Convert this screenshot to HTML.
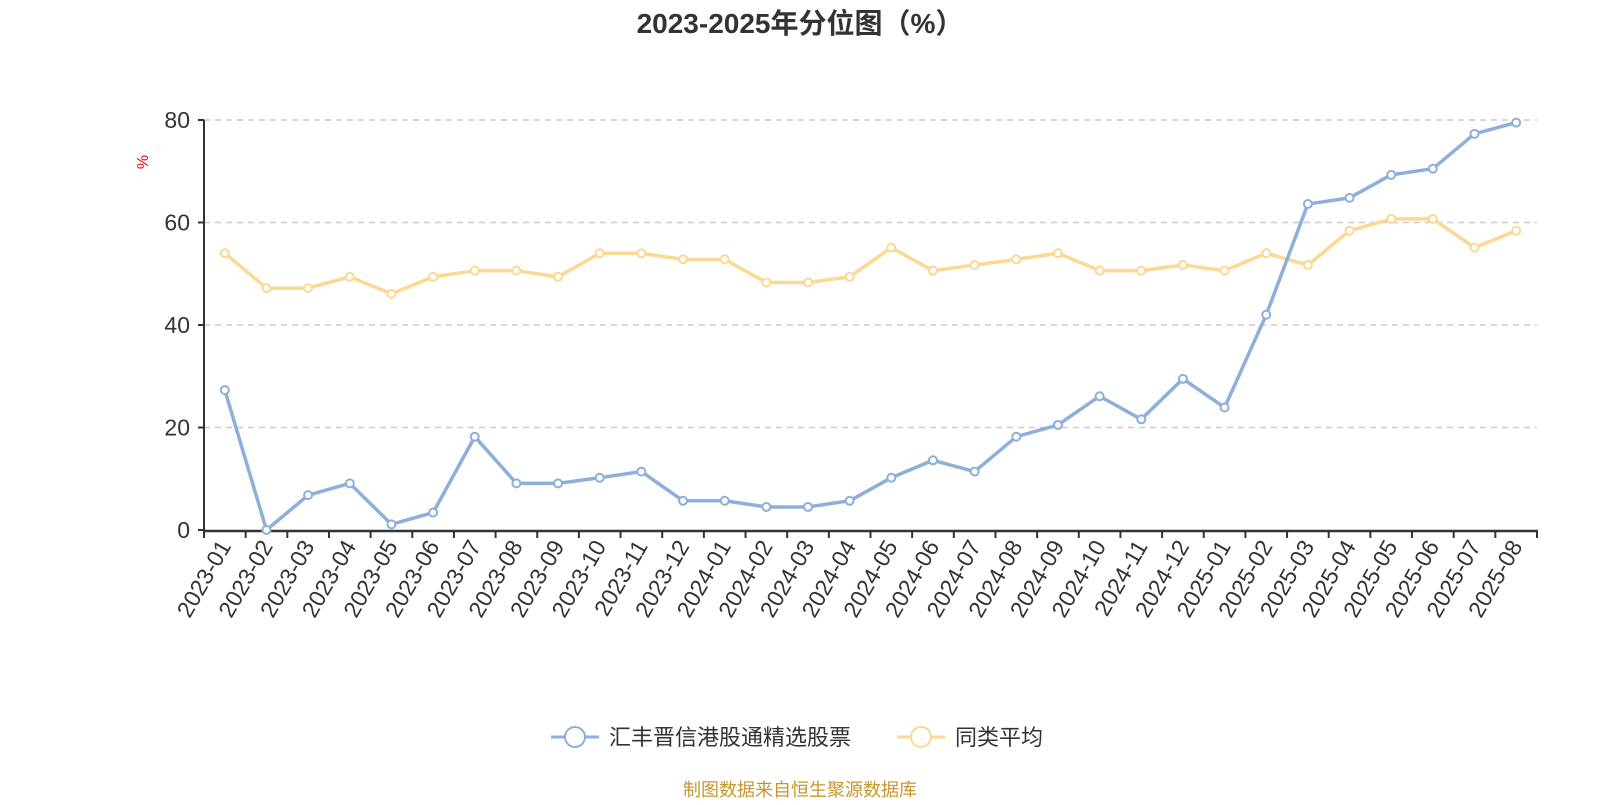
<!DOCTYPE html>
<html><head><meta charset="utf-8"><style>
body{margin:0;background:#fff;width:1600px;height:800px;overflow:hidden}
text{font-family:"Liberation Sans","Noto Sans CJK SC",sans-serif}
</style></head><body>
<svg id="c" width="1600" height="800">
<text x="800" y="33" text-anchor="middle" font-size="28" font-weight="bold" fill="#333">2023-2025年分位图（%）</text>
<text transform="translate(148,162) rotate(-90)" text-anchor="middle" font-size="16" fill="red">%</text>
<g id="grid"></g><g id="axes"></g><g id="series"></g>
<g>
<g><line x1="551" y1="737" x2="599" y2="737" stroke="#8eaedc" stroke-width="3"/><circle cx="575" cy="737" r="10" fill="#fff" stroke="#8eaedc" stroke-width="2"/><text x="609" y="745" font-size="22" fill="#333">汇丰晋信港股通精选股票</text></g>
<g><line x1="897" y1="737" x2="945" y2="737" stroke="#fcd892" stroke-width="3"/><circle cx="921" cy="737" r="10" fill="#fff" stroke="#fcd892" stroke-width="2"/><text x="955" y="745" font-size="22" fill="#333">同类平均</text></g>
</g>
<text x="800" y="796" text-anchor="middle" font-size="18" fill="#c8962a">制图数据来自恒生聚源数据库</text>
</svg>
<script>
const categories=["2023-01","2023-02","2023-03","2023-04","2023-05","2023-06","2023-07","2023-08","2023-09","2023-10","2023-11","2023-12","2024-01","2024-02","2024-03","2024-04","2024-05","2024-06","2024-07","2024-08","2024-09","2024-10","2024-11","2024-12","2025-01","2025-02","2025-03","2025-04","2025-05","2025-06","2025-07","2025-08"];
const fundValues=[27.3,0,6.8,9.1,1.1,3.4,18.2,9.1,9.1,10.2,11.4,5.7,5.7,4.5,4.5,5.7,10.2,13.6,11.4,18.2,20.5,26.1,21.6,29.5,23.9,42.0,63.6,64.8,69.3,70.5,77.3,79.5];
const avgValues=[54,47.2,47.2,49.4,46.1,49.4,50.6,50.6,49.4,54,54,52.8,52.8,48.3,48.3,49.4,55.1,50.6,51.7,52.8,54,50.6,50.6,51.7,50.6,54,51.7,58.4,60.7,60.7,55.1,58.4];
const yTicks=[0,20,40,60,80];
const NS="http://www.w3.org/2000/svg";
const L=204,R=1537,T=120,B=530,YMAX=80;
const band=(R-L)/categories.length;
const x=i=>L+band*(i+0.5);
const y=v=>B-(v/YMAX)*(B-T);
function mk(tag,attrs,parent){const e=document.createElementNS(NS,tag);for(const k in attrs)e.setAttribute(k,attrs[k]);parent.appendChild(e);return e;}
const grid=document.getElementById('grid'),axes=document.getElementById('axes'),series=document.getElementById('series');
yTicks.forEach(t=>{
 if(t>0){const g=mk('line',{x1:L,x2:R,y1:y(t),y2:y(t),stroke:'#ccc','stroke-dasharray':'6,5','stroke-width':1.5},grid);
 
 }
 const tl=mk('text',{x:L-14,y:y(t)+8,'text-anchor':'end','font-size':23,fill:'#333'},axes);tl.textContent=t;
 
 
 const tk=mk('line',{x1:L-6,x2:L,y1:y(t),y2:y(t),stroke:'#333','stroke-width':2},axes);
 
 
});
const ya=mk('line',{x1:L,x2:L,y1:T,y2:B+1,stroke:'#333','stroke-width':2},axes);


const xa=mk('line',{x1:L-1,x2:R+1,y1:B+1,y2:B+1,stroke:'#333','stroke-width':2.5},axes);


for(let i=0;i<=categories.length;i++){
 const tk=mk('line',{x1:L+band*i,x2:L+band*i,y1:B,y2:B+8,stroke:'#333','stroke-width':2},axes);
 
 
}
categories.forEach((c,i)=>{
 const t=mk('text',{transform:`translate(${x(i)+7},${B+16}) rotate(-60)`,'text-anchor':'end','font-size':23,fill:'#333'},axes);
 t.textContent=c;
 
 
});
function draw(vals,color,name){
 const p=mk('polyline',{points:vals.map((v,i)=>x(i)+','+y(v)).join(' '),fill:'none',stroke:color,'stroke-width':3.5,'stroke-linejoin':'round'},series);
 
 
 vals.forEach((v,i)=>{
  const c=mk('circle',{cx:x(i),cy:y(v),r:4,fill:'#fff',stroke:color,'stroke-width':2},series);
  
  
 });
}
draw(avgValues,'#fcd892','average');
draw(fundValues,'#8eaedc','fund');
</script>
</body></html>
